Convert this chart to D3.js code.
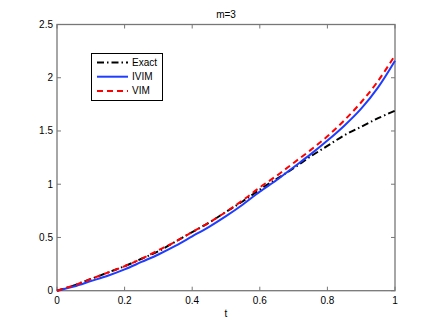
<!DOCTYPE html>
<html>
<head>
<meta charset="utf-8">
<script src="https://cdn.jsdelivr.net/npm/d3@7"></script>
<style>
  body { margin: 0; background: #fff; }
  text { font-family: "Liberation Sans", Arial, sans-serif; font-size: 10px; fill: #000; }
</style>
</head>
<body>
<svg width="436" height="327"></svg>
<script>
// sample points t = 0, 0.05, ..., 1
const tValues = d3.range(0, 21).map(i => i / 20);
const exactValues = [0, 0.05, 0.11, 0.17, 0.23, 0.30, 0.37, 0.46, 0.55, 0.64, 0.74, 0.84, 0.95, 1.05, 1.15, 1.26, 1.36, 1.46, 1.54, 1.62, 1.69];
const ivimValues  = [0, 0.04, 0.09, 0.14, 0.20, 0.27, 0.34, 0.42, 0.51, 0.60, 0.70, 0.81, 0.93, 1.04, 1.16, 1.28, 1.41, 1.55, 1.71, 1.91, 2.16];
const vimValues   = [0, 0.05, 0.11, 0.17, 0.23, 0.30, 0.38, 0.46, 0.55, 0.64, 0.74, 0.85, 0.97, 1.08, 1.20, 1.32, 1.45, 1.60, 1.77, 1.97, 2.21];
const xTicks = [0, 0.2, 0.4, 0.6, 0.8, 1];
const yTicks = [0, 0.5, 1, 1.5, 2, 2.5];

const series = [
    { name: "Exact", values: exactValues, color: "#000", dash: "7,3,1.5,3" },
    { name: "IVIM", values: ivimValues, color: "#1f3dff", dash: null },
    { name: "VIM", values: vimValues, color: "#ff0000", dash: "6,4" }
];

const plotLeft = 57, plotRight = 395, plotTop = 24.5, plotBottom = 290.7;
const svg = d3.select("svg");

const x = d3.scaleLinear().domain([0, 1]).range([plotLeft, plotRight]);
const y = d3.scaleLinear().domain([0, 2.5]).range([plotBottom, plotTop]);

// box
svg.append("rect")
    .attr("x", plotLeft).attr("y", plotTop)
    .attr("width", plotRight - plotLeft).attr("height", plotBottom - plotTop)
    .attr("fill", "none")
    .attr("stroke", "#777")
    .attr("stroke-width", 1.3);

// ticks (inward, all sides)
const tickLen = 4;
const axisColor = "#777";
for (const t of xTicks) {
    svg.append("line").attr("x1", x(t)).attr("x2", x(t)).attr("y1", plotBottom).attr("y2", plotBottom - tickLen).attr("stroke", axisColor);
    svg.append("line").attr("x1", x(t)).attr("x2", x(t)).attr("y1", plotTop).attr("y2", plotTop + tickLen).attr("stroke", axisColor);
    svg.append("text").attr("x", x(t)).attr("y", plotBottom + 13).attr("text-anchor", "middle").text(t);
}
for (const v of yTicks) {
    svg.append("line").attr("y1", y(v)).attr("y2", y(v)).attr("x1", plotLeft).attr("x2", plotLeft + tickLen).attr("stroke", axisColor);
    svg.append("line").attr("y1", y(v)).attr("y2", y(v)).attr("x1", plotRight).attr("x2", plotRight - tickLen).attr("stroke", axisColor);
    svg.append("text").attr("x", plotLeft - 4).attr("y", y(v) + 3.5).attr("text-anchor", "end").text(v);
}

// curves
const line = d3.line()
    .x((d, i) => x(tValues[i]))
    .y(d => y(d))
    .curve(d3.curveCatmullRom);

for (const s of series) {
    svg.append("path")
        .datum(s.values)
        .attr("d", line)
        .attr("fill", "none")
        .attr("stroke", s.color)
        .attr("stroke-width", 2)
        .attr("stroke-dasharray", s.dash);
}

// title and label
svg.append("text").attr("x", (plotLeft + plotRight) / 2).attr("y", 17.5).attr("text-anchor", "middle").text("m=3");
svg.append("text").attr("x", (plotLeft + plotRight) / 2).attr("y", 317).attr("text-anchor", "middle").text("t");

// legend
const lg = svg.append("g");
lg.append("rect")
    .attr("x", 91.5).attr("y", 53.5)
    .attr("width", 71).attr("height", 47)
    .attr("fill", "#fff").attr("stroke", "#000").attr("stroke-width", 1);
series.forEach((s, i) => {
    const yy = 62.5 + i * 14.2;
    lg.append("line")
        .attr("x1", 97).attr("x2", 128).attr("y1", yy).attr("y2", yy)
        .attr("stroke", s.color).attr("stroke-width", 2)
        .attr("stroke-dasharray", s.dash);
    lg.append("text").attr("x", 132).attr("y", yy + 3.5).text(s.name);
});
</script>
</body>
</html>
